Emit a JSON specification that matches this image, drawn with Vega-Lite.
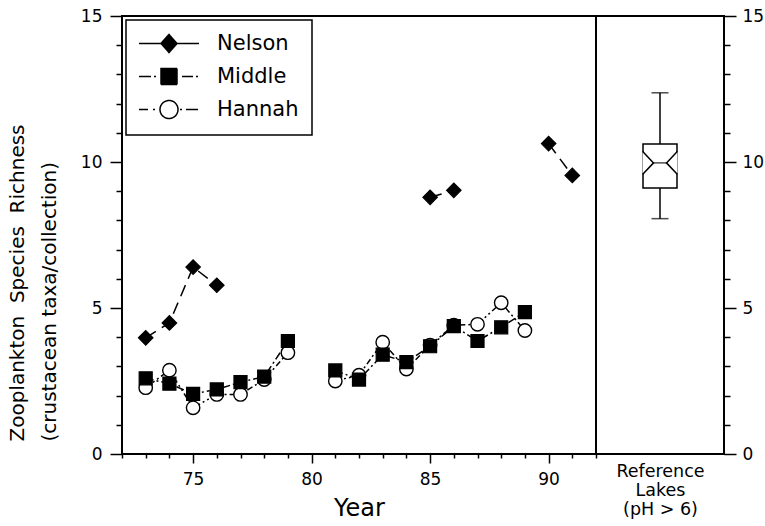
{
  "$schema": "https://vega.github.io/schema/vega-lite/v6.json",
  "background": "white",
  "padding": {"left": 6, "top": 6, "right": 2, "bottom": 4},
  "bounds": "flush",
  "config": {
    "view": {"stroke": "black", "strokeWidth": 2},
    "font": "DejaVu Sans",
    "concat": {"spacing": 0},
    "axis": {
      "grid": false,
      "domain": false,
      "tickColor": "black",
      "tickWidth": 1.5,
      "labelColor": "black",
      "titleColor": "black",
      "labelFont": "DejaVu Sans",
      "titleFont": "DejaVu Sans",
      "labelFontSize": 17,
      "labelOverlap": false,
      "titleFontWeight": "normal"
    }
  },
  "resolve": {
    "scale": {"stroke": "independent", "strokeDash": "independent"},
    "legend": {"stroke": "independent", "strokeDash": "independent"}
  },
  "datasets": {
    "series": [
      {"lake": "Hannah", "year": 73, "richness": 2.27, "run": 1},
      {"lake": "Hannah", "year": 74, "richness": 2.87, "run": 1},
      {"lake": "Hannah", "year": 75, "richness": 1.58, "run": 1},
      {"lake": "Hannah", "year": 76, "richness": 2.04, "run": 1},
      {"lake": "Hannah", "year": 77, "richness": 2.04, "run": 1},
      {"lake": "Hannah", "year": 78, "richness": 2.55, "run": 1},
      {"lake": "Hannah", "year": 79, "richness": 3.47, "run": 1},
      {"lake": "Hannah", "year": 81, "richness": 2.50, "run": 2},
      {"lake": "Hannah", "year": 82, "richness": 2.70, "run": 2},
      {"lake": "Hannah", "year": 83, "richness": 3.83, "run": 2},
      {"lake": "Hannah", "year": 84, "richness": 2.91, "run": 2},
      {"lake": "Hannah", "year": 85, "richness": 3.73, "run": 2},
      {"lake": "Hannah", "year": 86, "richness": 4.41, "run": 2},
      {"lake": "Hannah", "year": 87, "richness": 4.44, "run": 2},
      {"lake": "Hannah", "year": 88, "richness": 5.18, "run": 2},
      {"lake": "Hannah", "year": 89, "richness": 4.23, "run": 2},
      {"lake": "Middle", "year": 73, "richness": 2.59, "run": 1},
      {"lake": "Middle", "year": 74, "richness": 2.41, "run": 1},
      {"lake": "Middle", "year": 75, "richness": 2.06, "run": 1},
      {"lake": "Middle", "year": 76, "richness": 2.21, "run": 1},
      {"lake": "Middle", "year": 77, "richness": 2.46, "run": 1},
      {"lake": "Middle", "year": 78, "richness": 2.65, "run": 1},
      {"lake": "Middle", "year": 79, "richness": 3.87, "run": 1},
      {"lake": "Middle", "year": 81, "richness": 2.86, "run": 2},
      {"lake": "Middle", "year": 82, "richness": 2.55, "run": 2},
      {"lake": "Middle", "year": 83, "richness": 3.40, "run": 2},
      {"lake": "Middle", "year": 84, "richness": 3.15, "run": 2},
      {"lake": "Middle", "year": 85, "richness": 3.69, "run": 2},
      {"lake": "Middle", "year": 86, "richness": 4.38, "run": 2},
      {"lake": "Middle", "year": 87, "richness": 3.87, "run": 2},
      {"lake": "Middle", "year": 88, "richness": 4.34, "run": 2},
      {"lake": "Middle", "year": 89, "richness": 4.86, "run": 2},
      {"lake": "Nelson", "year": 73, "richness": 3.98, "run": 1},
      {"lake": "Nelson", "year": 74, "richness": 4.49, "run": 1},
      {"lake": "Nelson", "year": 75, "richness": 6.40, "run": 1},
      {"lake": "Nelson", "year": 76, "richness": 5.78, "run": 1},
      {"lake": "Nelson", "year": 85, "richness": 8.79, "run": 2},
      {"lake": "Nelson", "year": 86, "richness": 9.03, "run": 2},
      {"lake": "Nelson", "year": 90, "richness": 10.63, "run": 3},
      {"lake": "Nelson", "year": 91, "richness": 9.54, "run": 3}
    ],
    "reference": [
      {"group": "Reference Lakes (pH > 6)", "lower": 8.06, "q1": 9.11, "median": 9.97, "q3": 10.62, "upper": 12.37}
    ]
  },
  "hconcat": [
    {
      "width": 474,
      "height": 438,
      "data": {"name": "series"},
      "encoding": {
        "x": {
          "field": "year",
          "type": "quantitative",
          "scale": {"domain": [72, 92], "nice": false, "zero": false},
          "axis": {
            "values": [72, 73, 74, 75, 76, 77, 78, 79, 80, 81, 82, 83, 84, 85, 86, 87, 88, 89, 90, 91, 92],
            "labelExpr": "datum.value % 5 === 0 ? datum.label : ''",
            "tickSize": {"condition": {"test": "datum.value % 5 === 0", "value": 9}, "value": 4},
            "labelPadding": 8,
            "title": "Year",
            "titleFontSize": 24,
            "titlePadding": 9
          }
        },
        "y": {
          "field": "richness",
          "type": "quantitative",
          "scale": {"domain": [0, 15], "nice": false},
          "axis": {
            "values": [0, 1, 2, 3, 4, 5, 6, 7, 8, 9, 10, 11, 12, 13, 14, 15],
            "labelExpr": "datum.value % 5 === 0 ? datum.label : ''",
            "tickSize": {"condition": {"test": "datum.value % 5 === 0", "value": 12}, "value": 6},
            "labelPadding": 8,
            "labelOverlap": false,
            "title": ["Zooplankton\u00a0\u00a0Species\u00a0\u00a0Richness", "(crustacean taxa/collection)"],
            "titleFontSize": 20,
            "titleLineHeight": 32,
            "titlePadding": 21,
            "titleAnchor": "start",
            "titleY": 425
          }
        }
      },
      "layer": [
        {
          "mark": {"type": "line", "strokeWidth": 1.5},
          "encoding": {
            "strokeDash": {
              "field": "lake",
              "type": "nominal",
              "scale": {"range": [[6, 3, 2, 3, 2, 3], [8, 3, 2, 3], [12, 7]]},
              "legend": null
            },
            "stroke": {
              "field": "lake",
              "type": "nominal",
              "scale": {"domain": ["Nelson", "Middle", "Hannah"], "range": ["black", "black", "black"]},
              "legend": {
                "orient": "top-left",
                "offset": 4,
                "title": null,
                "padding": 13,
                "fillColor": "white",
                "strokeColor": "black",
                "labelFont": "DejaVu Sans",
                "labelFontSize": 21,
                "labelColor": "black",
                "symbolSize": 4,
                "symbolStrokeWidth": 1.5,
                "symbolOffset": 19.5,
                "labelOffset": 37.5,
                "rowPadding": 9,
                "encode": {
                  "legend": {"update": {"strokeWidth": {"value": 1.5}}},
                  "symbols": {
                    "update": {
                      "shape": {"signal": "datum.value === 'Nelson' ? 'M-30,0L30,0M0,-9L8,0L0,9L-8,0Z' : datum.value === 'Middle' ? 'M-30,0L-18,0M-15,0L-13,0M13,0L24,0M27,0L29,0M-8,-8L8,-8L8,8L-8,8Z' : 'M-30,0L-21,0M-16,0L-14,0M11,0L13,0M17,0L29,0M-9,0A9,9,0,1,0,9,0A9,9,0,1,0,-9,0Z'"},
                      "fill": {"signal": "datum.value === 'Hannah' ? 'white' : 'black'"},
                      "strokeWidth": {"value": 1.5},
                      "strokeDash": {"value": [1, 0]},
                      "size": {"value": 4},
                      "opacity": {"value": 1}
                    }
                  }
                }
              }
            },
            "detail": {"field": "run", "type": "nominal"}
          }
        },
        {
          "transform": [{"filter": "datum.lake === 'Hannah'"}],
          "mark": {"type": "point", "shape": "circle", "size": 180, "filled": true, "fill": "white", "stroke": "black", "strokeWidth": 1.4, "opacity": 1}
        },
        {
          "transform": [{"filter": "datum.lake === 'Middle'"}],
          "mark": {"type": "point", "shape": "square", "size": 170, "filled": true, "fill": "black", "stroke": "black", "strokeWidth": 1.2, "opacity": 1}
        },
        {
          "transform": [{"filter": "datum.lake === 'Nelson'"}],
          "mark": {"type": "point", "shape": "diamond", "size": 210, "filled": true, "fill": "black", "stroke": "black", "strokeWidth": 1.2, "opacity": 1}
        }
      ]
    },
    {
      "width": 128,
      "height": 438,
      "data": {"name": "reference"},
      "transform": [
        {"fold": ["lower", "q1", "median", "q3", "upper"], "as": ["stat", "value"]}
      ],
      "encoding": {
        "x": {
          "field": "group",
          "type": "nominal",
          "axis": {
            "labels": false,
            "ticks": false,
            "domain": false,
            "title": ["Reference", "Lakes", "(pH > 6)"],
            "titleFontSize": 17.5,
            "titleLineHeight": 19,
            "titlePadding": 8
          }
        },
        "y": {
          "field": "value",
          "type": "quantitative",
          "scale": {"domain": [0, 15], "nice": false},
          "axis": {
            "orient": "right",
            "values": [0, 1, 2, 3, 4, 5, 6, 7, 8, 9, 10, 11, 12, 13, 14, 15],
            "labelExpr": "datum.value % 5 === 0 ? datum.label : ''",
            "tickSize": {"condition": {"test": "datum.value % 5 === 0", "value": 12}, "value": 6},
            "labelPadding": 6,
            "labelOverlap": false,
            "title": null
          }
        }
      },
      "layer": [
        {
          "transform": [{"filter": "datum.stat === 'lower'"}],
          "mark": {"type": "rule", "color": "black", "strokeWidth": 1.5},
          "encoding": {"y2": {"field": "upper"}}
        },
        {
          "transform": [{"filter": "datum.stat === 'lower' || datum.stat === 'upper'"}],
          "mark": {"type": "tick", "color": "black", "thickness": 1.5, "size": 17, "orient": "horizontal"}
        },
        {
          "transform": [{"filter": "datum.stat === 'q1'"}],
          "mark": {"type": "bar", "fill": "white", "stroke": "black", "strokeWidth": 1.5, "size": 34},
          "encoding": {"y2": {"field": "q3"}}
        },
        {
          "transform": [{"filter": "datum.stat === 'median'"}],
          "mark": {"type": "point", "shape": "M-17.5,-11.7L-6.5,0L-17.5,11.7M17.5,-11.7L6.5,0L17.5,11.7", "size": 4, "filled": true, "fill": "white", "stroke": "black", "strokeWidth": 1.5, "opacity": 1}
        },
        {
          "transform": [{"filter": "datum.stat === 'median'"}],
          "mark": {"type": "tick", "color": "black", "thickness": 1.5, "size": 13, "orient": "horizontal"}
        }
      ]
    }
  ]
}
